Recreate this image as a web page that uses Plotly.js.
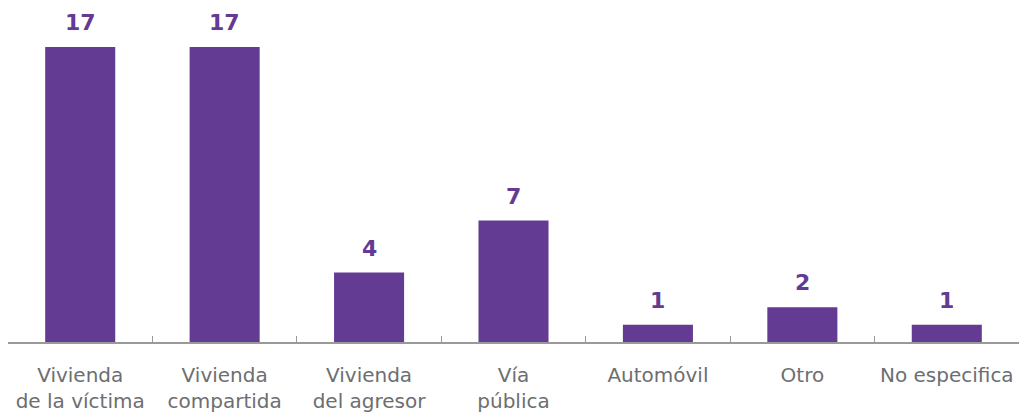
<!DOCTYPE html>
<html><head><meta charset="utf-8">
<script src="https://cdn.plot.ly/plotly-3.0.1.min.js"></script>
<style>html,body{margin:0;padding:0;background:#fff}#chart{width:1024px;height:414px}</style>
</head><body><div id="chart"></div>
<script>
const categories = ["Vivienda<br>de la víctima","Vivienda<br>compartida","Vivienda<br>del agresor","Vía<br>pública","Automóvil","Otro","No especifica"];
const values = [17,17,4,7,1,2,1];
const barColor = "#633b93";
const trace = {type:"bar", x:categories, y:values, marker:{color:barColor}, width:0.485, hoverinfo:"none"};
const annotations = categories.map((c,i)=>({x:c, y:values[i], text:"<b>"+values[i]+"</b>", showarrow:false, yanchor:"bottom", yshift:10, font:{family:"DejaVu Sans", size:22, color:barColor}}));
const layout = {
  width:1024, height:414, margin:{l:8,r:5,t:0,b:72}, showlegend:false,
  paper_bgcolor:"#fff", plot_bgcolor:"#fff", bargap:0.5,
  xaxis:{type:"category", tickson:"boundaries", ticks:"inside", ticklen:6, tickcolor:"#999", showline:true, linecolor:"#999", linewidth:1.5, showgrid:false, ticklabelstandoff:14, tickfont:{family:"DejaVu Sans", size:20, color:"#6d6e71"}, fixedrange:true},
  yaxis:{range:[0,19.71], visible:false, showgrid:false, zeroline:false, fixedrange:true},
  annotations:annotations
};
Plotly.newPlot("chart",[trace],layout,{displayModeBar:false,staticPlot:true});
</script></body></html>
